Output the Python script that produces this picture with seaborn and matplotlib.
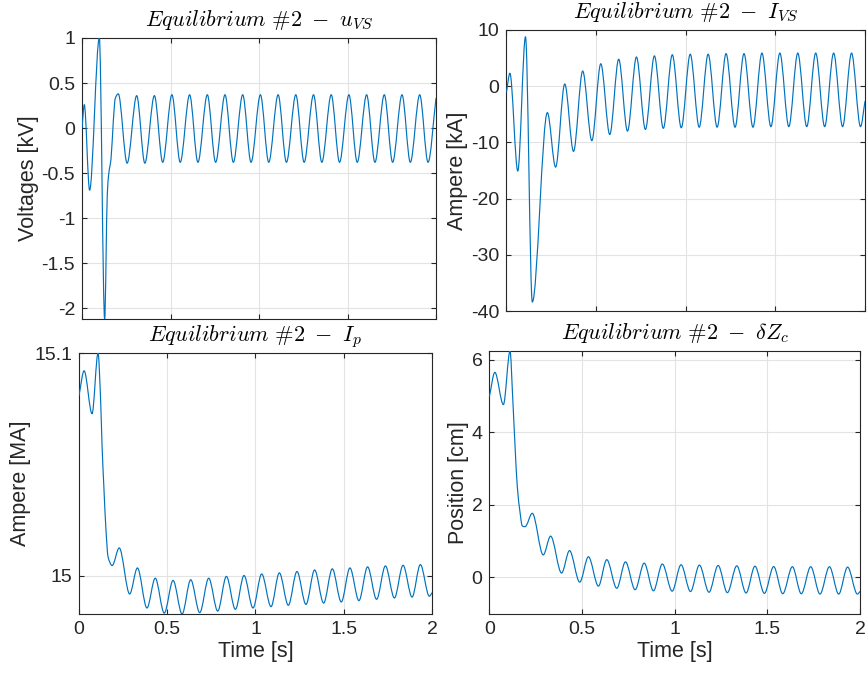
import matplotlib
matplotlib.use("Agg")
import matplotlib.pyplot as plt
import matplotlib.ticker as mticker
from matplotlib.path import Path
from matplotlib.patches import PathPatch
import numpy as np
import pandas as pd
import seaborn as sns

# ---------------- data (turning points) ----------------
uvs_t = [0.000, 0.013, 0.043, 0.098, 0.128, 0.143, 0.151, 0.164, 0.177, 0.188, 0.205,
         0.255, 0.309, 0.355, 0.409, 0.456, 0.508, 0.555, 0.608, 0.655, 0.708,
         0.755, 0.808, 0.855, 0.908, 0.955, 1.008, 1.055, 1.108, 1.155, 1.208,
         1.255, 1.308, 1.355, 1.408, 1.455, 1.508, 1.555, 1.608, 1.655, 1.708,
         1.755, 1.808, 1.855, 1.908, 1.955, 2.000]
uvs_v = [0.00, 0.26, -0.69, 1.00, -2.12, -0.73, -0.51, -0.34, 0.08, 0.33, 0.38,
         -0.39, 0.36, -0.39, 0.36, -0.38, 0.37, -0.38, 0.37, -0.38, 0.37,
         -0.38, 0.37, -0.38, 0.37, -0.38, 0.37, -0.38, 0.37, -0.38, 0.37,
         -0.38, 0.37, -0.38, 0.37, -0.38, 0.37, -0.38, 0.37, -0.38, 0.37,
         -0.38, 0.37, -0.38, 0.37, -0.38, 0.33]

ivs_t = [0.000, 0.019, 0.063, 0.106, 0.144, 0.228, 0.274,
         0.325, 0.374, 0.425, 0.476, 0.526, 0.576, 0.626, 0.675, 0.725, 0.775,
         0.825, 0.875, 0.925, 0.975, 1.025, 1.075, 1.125, 1.175, 1.225, 1.275,
         1.325, 1.375, 1.425, 1.475, 1.525, 1.575, 1.625, 1.675, 1.725, 1.775,
         1.825, 1.875, 1.925, 1.975, 2.000]
ivs_v = [-1.0, 2.3, -15.1, 8.8, -38.4, -4.7, -14.4,
         0.4, -11.6, 2.7, -9.7, 4.0, -8.6, 4.8, -8.0, 5.2, -7.7,
         5.4, -7.5, 5.6, -7.4, 5.7, -7.3, 5.7, -7.3, 5.8, -7.3,
         5.8, -7.3, 5.9, -7.2, 5.9, -7.2, 5.9, -7.2, 5.9, -7.2,
         5.9, -7.2, 5.9, -7.2, -2.7]

ip_t = [0.000, 0.029, 0.074, 0.108, 0.122, 0.131, 0.141, 0.152, 0.165, 0.188,
        0.228, 0.287, 0.331, 0.385, 0.432, 0.483, 0.533, 0.584,
        0.633, 0.684, 0.735, 0.786, 0.835, 0.886, 0.935, 0.986,
        1.035, 1.088, 1.135, 1.186, 1.235, 1.286, 1.335, 1.386,
        1.435, 1.486, 1.535, 1.586, 1.635, 1.686, 1.736, 1.787,
        1.836, 1.887, 1.934, 1.985, 2.000]
ip_v = [15.0809, 15.0920, 15.0727, 15.1000, 15.0799, 15.0575, 15.0396, 15.0216, 15.0082, 15.0045,
        15.0124, 14.9917, 15.0034, 14.9854, 14.9988, 14.9831, 14.9978, 14.9827,
        14.9981, 14.9833, 14.9988, 14.9840, 14.9996, 14.9848, 15.0000, 14.9854,
        15.0007, 14.9860, 15.0012, 14.9866, 15.0018, 14.9870, 15.0025, 14.9876,
        15.0030, 14.9881, 15.0034, 14.9887, 15.0039, 14.9893, 15.0043, 14.9899,
        15.0046, 14.9903, 15.0049, 14.9907, 14.9922]

dz_t = [0.000, 0.029, 0.075, 0.111, 0.125, 0.138, 0.150, 0.165, 0.177, 0.192,
        0.231, 0.290, 0.330, 0.389, 0.432, 0.487, 0.534, 0.588,
        0.633, 0.687, 0.734, 0.786, 0.835, 0.885, 0.933, 0.986,
        1.034, 1.085, 1.133, 1.185, 1.234, 1.284, 1.335, 1.385,
        1.433, 1.484, 1.534, 1.583, 1.635, 1.683, 1.734, 1.784,
        1.835, 1.885, 1.933, 1.986, 2.000]
dz_v = [5.00, 5.65, 4.76, 6.24, 4.98, 3.60, 2.50, 1.78, 1.41, 1.39,
        1.76, 0.61, 1.13, 0.11, 0.73, -0.14, 0.56, -0.25,
        0.48, -0.31, 0.42, -0.35, 0.385, -0.38, 0.36, -0.39,
        0.34, -0.40, 0.33, -0.42, 0.32, -0.43, 0.31, -0.44,
        0.30, -0.45, 0.29, -0.46, 0.285, -0.46, 0.285, -0.47,
        0.285, -0.47, 0.275, -0.47, -0.40]

titles = [r"$Equilibrium\ \#2\ -\ u_{VS}$", r"$Equilibrium\ \#2\ -\ I_{VS}$",
          r"$Equilibrium\ \#2\ -\ I_{p}$", r"$Equilibrium\ \#2\ -\ \delta Z_{c}$"]
ylabels = ["Voltages [kV]", "Ampere [kA]", "Ampere [MA]", "Position [cm]"]
x_ticks = [0, 0.5, 1, 1.5, 2]
x_ticklabels = ["0", "0.5", "1", "1.5", "2"]
y_ticks = [[1, 0.5, 0, -0.5, -1, -1.5, -2], [10, 0, -10, -20, -30, -40], [15, 15.1], [0, 2, 4, 6]]
y_lims = [(-2.12, 1.0), (-40, 10), (14.9827, 15.1), (-1.02, 6.24)]

# ---------------- style ----------------
sns.set_theme(style="ticks")
plt.rcParams.update({
    "font.family": ["Liberation Sans", "DejaVu Sans"],
    "mathtext.fontset": "cm",
    "axes.unicode_minus": False,
    "axes.edgecolor": "#262626",
    "axes.linewidth": 0.8,
    "text.color": "#262626",
    "axes.labelcolor": "#262626",
    "xtick.color": "#262626",
    "ytick.color": "#262626",
})
LINE_COLOR = "#0072BD"

W, H = 868, 681
fig = plt.figure(figsize=(W / 100, H / 100), dpi=100)


def px_axes(l, r, t, b):
    return fig.add_axes([l / W, 1 - b / H, (r - l) / W, (b - t) / H])


def smooth_curve(df):
    """Smooth Bezier line through the read turning points (flat tangent at extrema)."""
    t = df["t"].to_numpy(float)
    v = df["v"].to_numpy(float)
    n = len(t)
    d = np.diff(v) / np.diff(t)
    m = np.zeros(n)
    m[0], m[-1] = d[0], d[-1]
    for i in range(1, n - 1):
        if d[i - 1] * d[i] > 0:
            m[i] = 2.0 / (1.0 / d[i - 1] + 1.0 / d[i])
    verts = [(t[0], v[0])]
    codes = [Path.MOVETO]
    for i in range(n - 1):
        h = t[i + 1] - t[i]
        verts += [(t[i] + h / 3, v[i] + m[i] * h / 3),
                  (t[i + 1] - h / 3, v[i + 1] - m[i + 1] * h / 3),
                  (t[i + 1], v[i + 1])]
        codes += [Path.CURVE4] * 3
    return Path(verts, codes)


boxes = [(82, 436, 38, 319), (506.5, 865, 30, 311), (79, 432, 353, 614), (489.5, 860, 351, 614)]
series = [(uvs_t, uvs_v), (ivs_t, ivs_v), (ip_t, ip_v), (dz_t, dz_v)]

for i, (box, (tt, vv)) in enumerate(zip(boxes, series)):
    ax = px_axes(*box)
    df = pd.DataFrame({"t": tt, "v": vv})
    ax.add_patch(PathPatch(smooth_curve(df), facecolor="none", edgecolor=LINE_COLOR,
                           linewidth=0.85, joinstyle="round", capstyle="round", zorder=3))
    ax.set_xlim(0, 2)
    ax.set_ylim(*y_lims[i])
    ax.set_xticks(x_ticks)
    ax.set_yticks(y_ticks[i])
    ax.yaxis.set_major_formatter(mticker.FormatStrFormatter("%g"))
    if i < 2:
        ax.set_xticklabels([])
        ax.set_xlabel("")
    else:
        ax.set_xticklabels(x_ticklabels)
        ax.set_xlabel("Time [s]", fontsize=15.5, labelpad=2)
    ax.set_ylabel(ylabels[i], fontsize=15.5, labelpad=2)
    ax.grid(True, color="#E3E3E3", linewidth=0.8)
    ax.set_axisbelow(True)
    ax.tick_params(direction="in", top=True, right=True, length=3.5, width=0.8,
                   labelsize=14, pad=5)
    for s in ax.spines.values():
        s.set_visible(True)
        s.set_color("#262626")
        s.set_linewidth(0.8)
    ax.set_title(titles[i], fontsize=16, pad=8.5, color="black")

fig.savefig("out.png", dpi=100)
